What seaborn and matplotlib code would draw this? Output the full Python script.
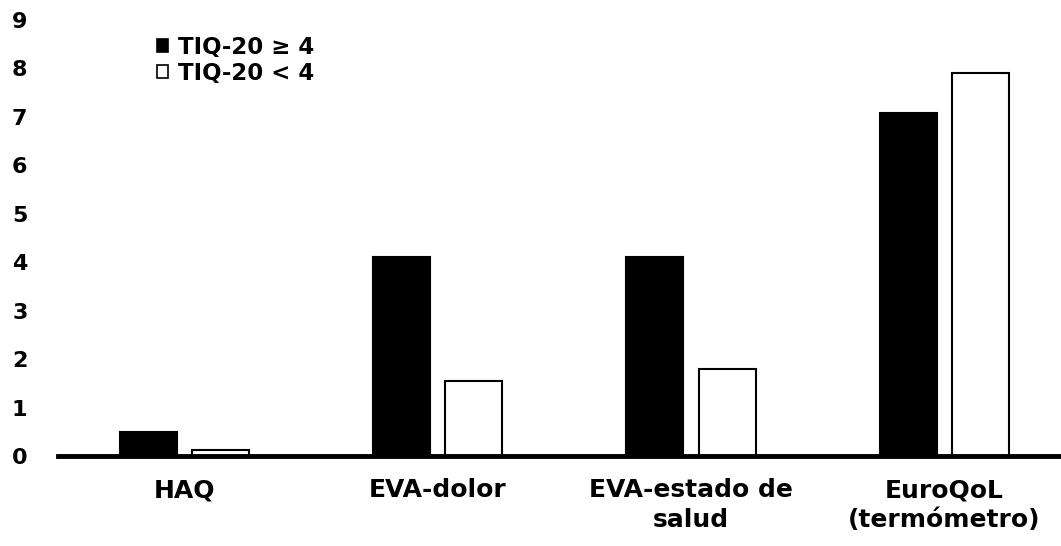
import matplotlib
matplotlib.use("Agg")
import matplotlib.pyplot as plt
from matplotlib.patches import Patch
import pandas as pd
import seaborn as sns

# values
categories = ['HAQ', 'EVA-dolor', 'EVA-estado de\nsalud', 'EuroQoL\n(termómetro)']
group_labels = ['TIQ-20 ≥ 4', 'TIQ-20 < 4']
tiq_high = [0.50, 4.10, 4.10, 7.09]
tiq_low = [0.12, 1.55, 1.80, 7.90]

df = pd.DataFrame({
    'Categoria': categories * 2,
    'Grupo': [group_labels[0]] * 4 + [group_labels[1]] * 4,
    'Valor': tiq_high + tiq_low,
})

sns.set_style('white')
plt.rcParams['font.family'] = ['DejaVu Sans']
plt.rcParams['font.weight'] = 'bold'
plt.rcParams['text.color'] = 'black'
plt.rcParams['xtick.color'] = 'black'
plt.rcParams['ytick.color'] = 'black'

fig = plt.figure(figsize=(10.61, 5.46), dpi=100)
ax = fig.add_axes([58 / 1061, 90 / 546, 1003 / 1061, 436 / 546])

sns.barplot(data=df, x='Categoria', y='Valor', hue='Grupo',
            palette=['black', 'white'], edgecolor='black', linewidth=1.5,
            width=0.57, gap=0.21, ax=ax, legend=False)

ax.set_xlim(-0.5, 3.461)
ax.set_ylim(0, 9)
ax.set_yticks(range(10))
ax.set_xlabel('')
ax.set_ylabel('')
for s in ['left', 'right', 'top']:
    ax.spines[s].set_visible(False)
ax.spines['bottom'].set_linewidth(3.5)
ax.spines['bottom'].set_color('black')
ax.spines['bottom'].set_zorder(5)
ax.tick_params(axis='y', length=0, pad=22, labelsize=16, labelcolor='black')
ax.tick_params(axis='x', length=0, pad=16, labelsize=18, labelcolor='black')
for lab in ax.get_xticklabels() + ax.get_yticklabels():
    lab.set_fontweight('bold')
    lab.set_linespacing(1.3)

handles = [Patch(facecolor='black', edgecolor='black', linewidth=1.2),
           Patch(facecolor='white', edgecolor='black', linewidth=1.2)]
fig.legend(handles, group_labels, loc='upper left',
           bbox_to_anchor=(157 / 1061, 1 - 36 / 546), frameon=False,
           handlelength=0.5, handleheight=0.5, handletextpad=0.4,
           borderpad=0, borderaxespad=0, labelspacing=0.12,
           prop={'weight': 'bold', 'size': 16.5})

fig.savefig('out.png', dpi=100)
